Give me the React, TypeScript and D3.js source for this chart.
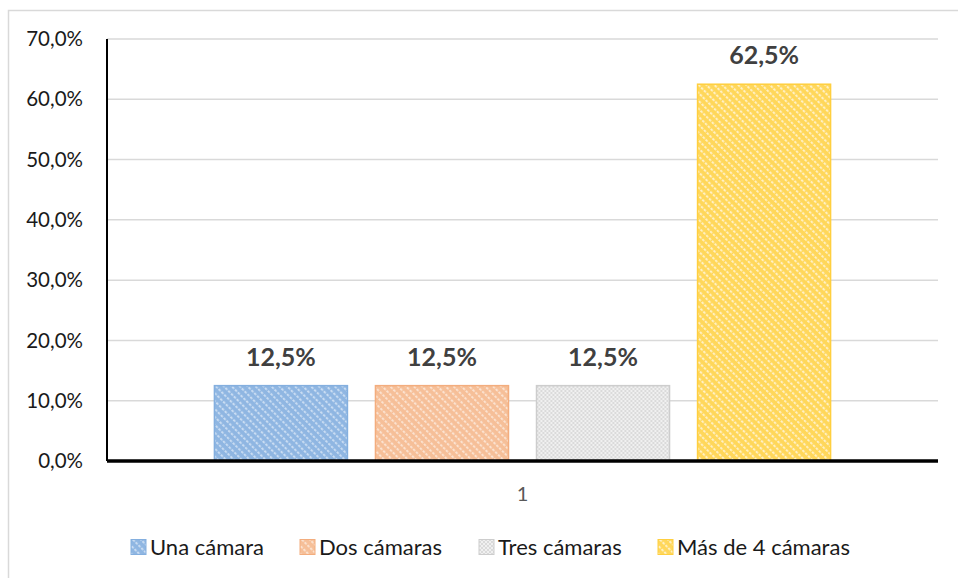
import React from "react";
import * as d3 from "d3";

const categories = ["1"];
const seriesNames = ["Una cámara", "Dos cámaras", "Tres cámaras", "Más de 4 cámaras"];
const seriesValues = [12.5, 12.5, 12.5, 62.5];
const yTicks = [0, 10, 20, 30, 40, 50, 60, 70];

const W = 958,
  H = 578;
const plot = { left: 107, right: 938, top: 39, bottom: 461 };
const FONT = "Lato, 'Open Sans', sans-serif";

// base colour, stripe colour, edge colour per series
const palette = [
  { base: "#8fb6e2", stripe: "#c9dcf2", edge: "#84afdf" },
  { base: "#f6bf98", stripe: "#fbe2d0", edge: "#f3ad7e" },
  { base: "#dadada", stripe: "#f0f0f0", edge: "#cdcdcd" },
  { base: "#ffd75a", stripe: "#fff0c4", edge: "#ffcf3f" },
];

const fmt = (v: number) => v.toFixed(1).replace(".", ",");

export default function App() {
  const y = d3.scaleLinear().domain([0, 70]).range([plot.bottom, plot.top]);
  const x0 = d3.scaleBand().domain(categories).range([plot.left, plot.right]).paddingOuter(0.145);
  const x1 = d3
    .scaleBand()
    .domain(seriesNames)
    .range([0, x0.bandwidth()])
    .paddingInner(0.174)
    .paddingOuter(0.087);

  const base = y(0);
  const legendX = [131, 300, 479, 658];

  return (
    <div style={{ position: "fixed", left: 0, top: 0 }}>
      <svg width={W} height={H} style={{ display: "block", background: "#fff" }}>
        <defs>
          {palette.map((p, i) =>
            i === 2 ? (
              <pattern key={i} id={`pat${i}`} width={4} height={4} patternUnits="userSpaceOnUse">
                <rect width={4} height={4} fill={p.base} />
                <rect x={0} y={0} width={2} height={2} fill={p.stripe} />
                <rect x={2} y={2} width={2} height={2} fill={p.stripe} />
              </pattern>
            ) : (
              <pattern
                key={i}
                id={`pat${i}`}
                width={5.6}
                height={4}
                patternUnits="userSpaceOnUse"
                patternTransform="rotate(-45)"
              >
                <rect width={5.6} height={4} fill={p.base} />
                <rect x={0} y={0} width={2} height={2.6} fill={p.stripe} />
              </pattern>
            )
          )}
        </defs>

        {/* chart border */}
        <rect x={8.5} y={10.5} width={W + 20} height={H + 20} fill="none" stroke="#d9d9d9" strokeWidth={1.5} />

        {/* gridlines */}
        {yTicks
          .filter((t) => t > 0)
          .map((t) => (
            <line key={t} x1={plot.left} x2={plot.right} y1={y(t)} y2={y(t)} stroke="#d9d9d9" strokeWidth={1.5} />
          ))}

        {/* y tick labels */}
        {yTicks.map((t) => (
          <text key={t} x={83} y={y(t)} dy="0.35em" textAnchor="end" fontFamily={FONT} fontSize={20.5} fill="#1a1a1a">
            {fmt(t)}%
          </text>
        ))}

        {/* bars */}
        {categories.map((c) => (
          <g key={c} transform={`translate(${x0(c)},0)`}>
            {seriesNames.map((s, i) => {
              const v = seriesValues[i];
              const bx = x1(s)!;
              return (
                <g key={s}>
                  <rect
                    x={bx}
                    y={y(v)}
                    width={x1.bandwidth()}
                    height={base - y(v)}
                    fill={`url(#pat${i})`}
                    stroke={palette[i].edge}
                    strokeWidth={1.5}
                  />
                  <text
                    x={bx + x1.bandwidth() / 2}
                    y={y(v) - 20}
                    textAnchor="middle"
                    fontFamily={FONT}
                    fontWeight="bold"
                    fontSize={25}
                    fill="#404040"
                  >
                    {fmt(v)}%
                  </text>
                </g>
              );
            })}
            <text
              x={x0.bandwidth() / 2}
              y={494}
              dy="0.35em"
              textAnchor="middle"
              fontFamily={FONT}
              fontSize={20}
              fill="#595959"
            >
              {c}
            </text>
          </g>
        ))}

        {/* axes */}
        <line x1={plot.left} x2={plot.left} y1={plot.top} y2={base} stroke="#000" strokeWidth={2} />
        <line x1={plot.left} x2={plot.right} y1={base} y2={base} stroke="#000" strokeWidth={3.5} />

        {/* legend */}
        {seriesNames.map((s, i) => (
          <g key={s} transform={`translate(${legendX[i]},547)`}>
            <rect x={0} y={-7.5} width={15} height={15} fill={`url(#pat${i})`} stroke={palette[i].edge} strokeWidth={1} />
            <text x={19} y={0} dy="0.35em" fontFamily={FONT} fontSize={22} fill="#1a1a1a">
              {s}
            </text>
          </g>
        ))}
      </svg>
    </div>
  );
}
